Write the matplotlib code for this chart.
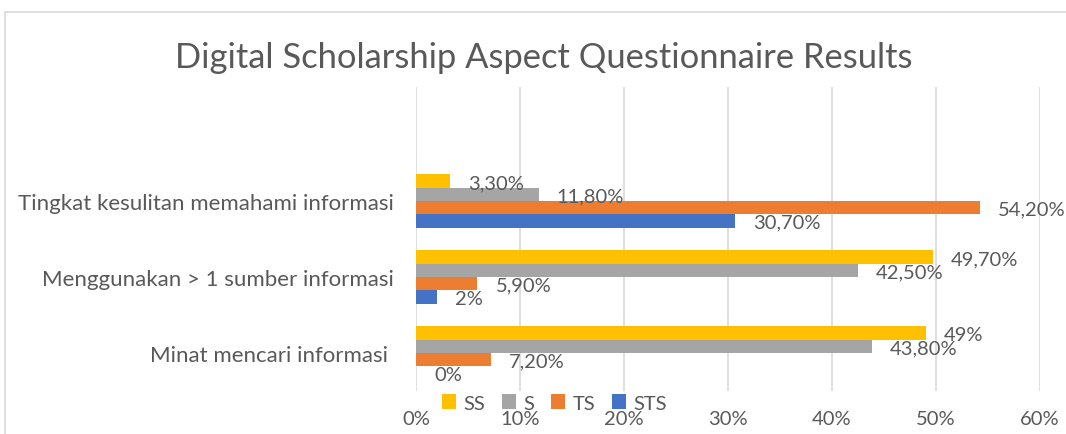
import matplotlib
matplotlib.use('Agg')
import matplotlib.pyplot as plt
from matplotlib.patches import Rectangle
from matplotlib.ticker import FuncFormatter
import numpy as np

# data (top to bottom as shown in the chart)
categories = ['Tingkat kesulitan memahami informasi',
              'Menggunakan > 1 sumber informasi',
              'Minat mencari informasi ']
series = ['SS', 'S', 'TS', 'STS']
ss = [3.3, 49.7, 49.0]
s = [11.8, 42.5, 43.8]
ts = [54.2, 5.9, 7.2]
sts = [30.7, 2.0, 0.0]
ss_labels = ['3,30%', '49,70%', '49%']
s_labels = ['11,80%', '42,50%', '43,80%']
ts_labels = ['54,20%', '5,90%', '7,20%']
sts_labels = ['30,70%', '2%', '0%']
colors = ['#FFC000', '#A5A5A5', '#ED7D31', '#4472C4']

plt.rcParams['font.family'] = ['Lato', 'DejaVu Sans']
text_color = '#595959'

fig = plt.figure(figsize=(10.66, 4.35), dpi=100)
fig.patches.append(Rectangle((5 / 1066, -0.1), 1.2, 1 - 13 / 435 + 0.1,
                             transform=fig.transFigure, fill=False,
                             edgecolor='#D9D9D9', linewidth=1.2))

ax = fig.add_axes([416 / 1066, 1 - 392 / 435, 624 / 1066, 304 / 435])

values = [ss, s, ts, sts]
labels = [ss_labels, s_labels, ts_labels, sts_labels]
n_cat = len(categories)
ypos = np.arange(n_cat)[::-1]  # top category highest
h = 0.175
offsets = [1.5 * h, 0.5 * h, -0.5 * h, -1.5 * h]

for vals, labs, name, col, off in zip(values, labels, series, colors, offsets):
    bars = ax.barh(ypos + off, vals, height=h, color=col, label=name, zorder=3)
    for b, lab in zip(bars, labs):
        ax.annotate(lab, (b.get_width(), b.get_y() + b.get_height() / 2),
                    xytext=(13, -1), textcoords='offset points',
                    ha='left', va='center', fontsize=14.5, color=text_color,
                    annotation_clip=False, zorder=4)

ax.set_xlim(0, 60)
ax.set_ylim(-0.5, 3.5)
ax.set_xticks(range(0, 61, 10))
ax.xaxis.set_major_formatter(FuncFormatter(lambda v, p: f'{int(v)}%'))
ax.set_yticks(ypos)
ax.set_yticklabels(categories)
ax.tick_params(axis='x', length=0, pad=14, labelsize=14.5, labelcolor=text_color)
ax.tick_params(axis='y', length=0, pad=16, labelsize=16, labelcolor=text_color)
ax.grid(axis='x', color='#D9D9D9', linewidth=1.2, zorder=0)
for sp in ax.spines.values():
    sp.set_visible(False)

fig.text(544 / 1066, 1 - 58 / 435, 'Digital Scholarship Aspect Questionnaire Results',
         ha='center', va='center', fontsize=24.8, color=text_color)

fig.legend(loc='center left', bbox_to_anchor=(442 / 1066, 1 - 404 / 435),
           ncol=4, frameon=False, handlelength=0.7, handleheight=0.7,
           handletextpad=0.35, columnspacing=0.85, fontsize=14.5,
           labelcolor=text_color, borderaxespad=0, borderpad=0)

fig.savefig('out.png', dpi=100)
